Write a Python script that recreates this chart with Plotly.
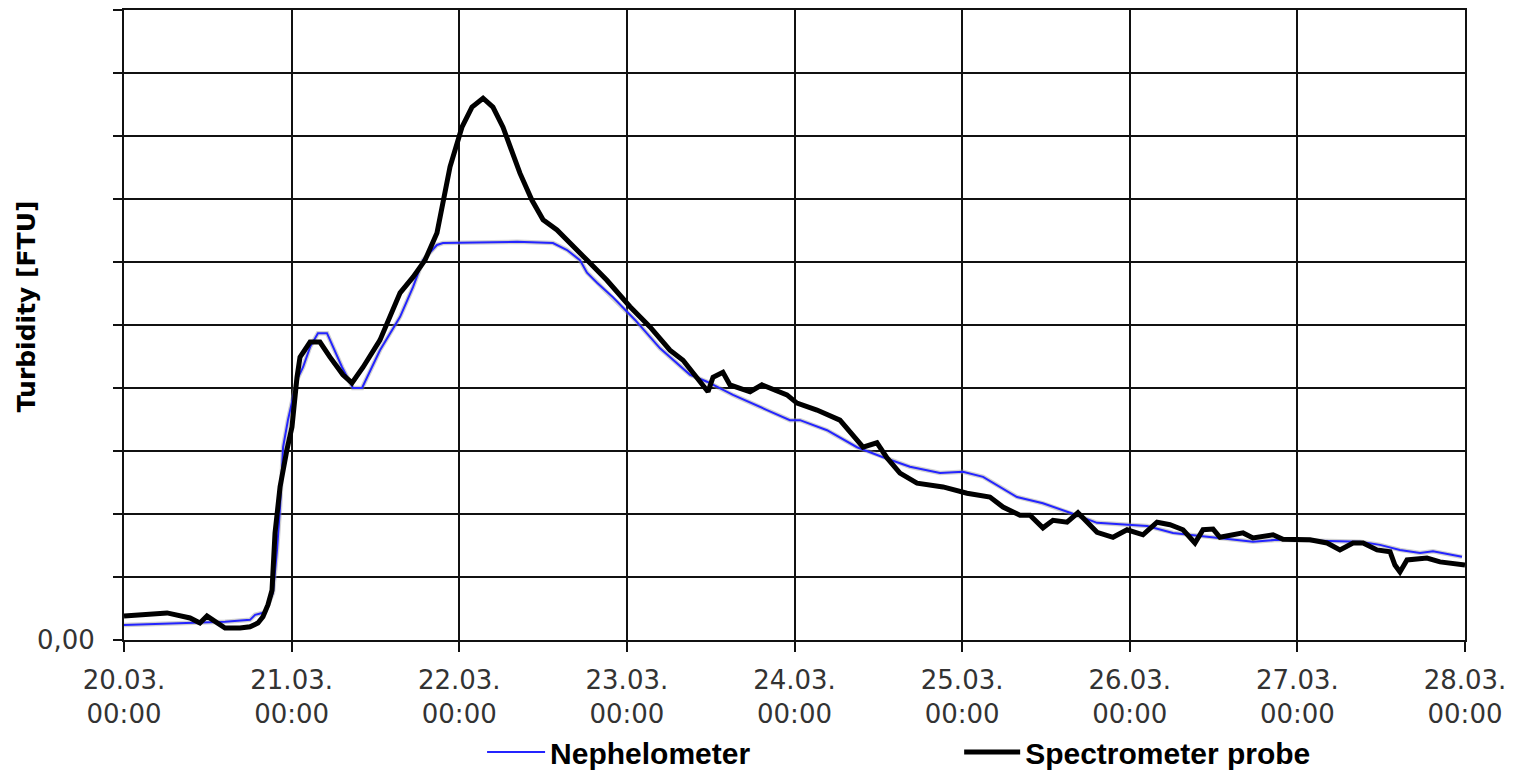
import plotly.graph_objects as go

# ---- data (x: days since 20.03. 00:00, y: turbidity in grid units) ----
spec_day = [0.000, 0.197, 0.257, 0.394, 0.453, 0.495, 0.543, 0.603, 0.692, 0.752,
            0.799, 0.829, 0.859, 0.883, 0.901, 0.931, 0.972, 1.002, 1.032, 1.050,
            1.110, 1.169, 1.229, 1.306, 1.360, 1.426, 1.527, 1.647, 1.724, 1.796,
            1.867, 1.903, 1.945, 2.016, 2.076, 2.142, 2.201, 2.261, 2.303, 2.362,
            2.434, 2.500, 2.583, 2.679, 2.762, 2.881, 3.019, 3.138, 3.257, 3.335,
            3.418, 3.484, 3.514, 3.573, 3.615, 3.735, 3.806, 3.872, 3.955, 4.015,
            4.134, 4.271, 4.349, 4.409, 4.492, 4.552, 4.629, 4.731, 4.886, 5.029,
            5.166, 5.244, 5.345, 5.405, 5.482, 5.542, 5.626, 5.691, 5.805, 5.900,
            5.984, 6.079, 6.163, 6.240, 6.318, 6.389, 6.437, 6.497, 6.538, 6.676,
            6.735, 6.855, 6.914, 7.075, 7.177, 7.254, 7.332, 7.392, 7.475, 7.553,
            7.582, 7.612, 7.654, 7.773, 7.851, 7.928, 8.000]
spec_val = [0.38, 0.41, 0.43, 0.35, 0.27, 0.38, 0.29, 0.19, 0.19, 0.21,
            0.27, 0.37, 0.56, 0.79, 1.70, 2.43, 3.02, 3.38, 4.17, 4.49,
            4.73, 4.73, 4.49, 4.21, 4.08, 4.33, 4.76, 5.51, 5.76, 6.03,
            6.46, 6.98, 7.51, 8.14, 8.46, 8.60, 8.46, 8.14, 7.83, 7.41,
            6.98, 6.67, 6.51, 6.24, 6.03, 5.71, 5.29, 4.97, 4.60, 4.44,
            4.17, 3.94, 4.17, 4.25, 4.05, 3.94, 4.05, 3.97, 3.89, 3.76,
            3.65, 3.49, 3.25, 3.06, 3.13, 2.89, 2.65, 2.49, 2.43, 2.33,
            2.27, 2.11, 1.98, 1.98, 1.78, 1.90, 1.87, 2.02, 1.71, 1.63,
            1.75, 1.67, 1.87, 1.83, 1.75, 1.54, 1.75, 1.76, 1.63, 1.70,
            1.62, 1.67, 1.60, 1.59, 1.54, 1.43, 1.54, 1.54, 1.43, 1.40,
            1.19, 1.08, 1.27, 1.30, 1.24, 1.22, 1.19]

neph_day = [0.000, 0.394, 0.603, 0.752, 0.782, 0.841, 0.889, 0.913, 0.931, 0.949,
            0.978, 1.032, 1.068, 1.110, 1.157, 1.211, 1.301, 1.366, 1.420, 1.527,
            1.647, 1.724, 1.784, 1.867, 1.903, 2.345, 2.559, 2.643, 2.720, 2.762,
            2.822, 2.917, 3.049, 3.198, 3.377, 3.478, 3.633, 3.836, 3.973, 4.033,
            4.194, 4.373, 4.528, 4.689, 4.868, 5.005, 5.125, 5.327, 5.482, 5.644,
            5.805, 6.103, 6.258, 6.735, 6.878, 7.374, 7.493, 7.612, 7.732, 7.809,
            7.928, 7.982]
neph_val = [0.24, 0.27, 0.29, 0.32, 0.40, 0.44, 0.75, 1.43, 2.11, 3.06,
            3.49, 4.13, 4.33, 4.65, 4.87, 4.87, 4.33, 4.00, 4.00, 4.60,
            5.13, 5.60, 6.03, 6.27, 6.30, 6.32, 6.30, 6.19, 6.03, 5.83,
            5.67, 5.44, 5.08, 4.63, 4.21, 4.10, 3.89, 3.65, 3.49, 3.49,
            3.33, 3.06, 2.90, 2.75, 2.65, 2.67, 2.59, 2.27, 2.17, 2.02,
            1.86, 1.81, 1.70, 1.56, 1.59, 1.56, 1.51, 1.43, 1.38, 1.41,
            1.35, 1.32]

x_tick_vals = [0, 1, 2, 3, 4, 5, 6, 7, 8]
x_tick_text = ["20.03.<br>00:00", "21.03.<br>00:00", "22.03.<br>00:00",
               "23.03.<br>00:00", "24.03.<br>00:00", "25.03.<br>00:00",
               "26.03.<br>00:00", "27.03.<br>00:00", "28.03.<br>00:00"]
y_tick_vals = [0, 1, 2, 3, 4, 5, 6, 7, 8, 9, 10]
y_tick_text = ["0,00", "", "", "", "", "", "", "", "", "", ""]

fig = go.Figure()
# soft grey halo under the nephelometer line (as in the original rendering)
fig.add_trace(go.Scatter(x=neph_day, y=neph_val, mode="lines", name="Nephelometer halo",
                         line=dict(color="rgba(150,150,150,0.45)", width=4.5),
                         showlegend=False, hoverinfo="skip"))
fig.add_trace(go.Scatter(x=neph_day, y=neph_val, mode="lines", name="Nephelometer",
                         line=dict(color="#2424ff", width=2), legend="legend",
                         showlegend=True))
fig.add_trace(go.Scatter(x=spec_day, y=spec_val, mode="lines", name="Spectrometer probe",
                         line=dict(color="#000000", width=5), legend="legend2",
                         showlegend=True))

legend_font = dict(family="Liberation Sans", size=30, color="black", weight="bold")

fig.update_layout(
    width=1505, height=766,
    margin=dict(l=116, r=48, t=2, b=134, autoexpand=False),
    showlegend=True,
    paper_bgcolor="white", plot_bgcolor="white",
    xaxis=dict(range=[0, 8], tickvals=x_tick_vals, ticktext=x_tick_text,
               automargin=False,
               showgrid=True, gridcolor="#111111", gridwidth=2,
               showline=True, linecolor="#111111", linewidth=2, mirror=True,
               ticks="outside", ticklen=10, tickwidth=2, tickcolor="#111111",
               tickfont=dict(family="DejaVu Sans", size=26, color="#333333"),
               ticklabelstandoff=6, zeroline=False, fixedrange=True),
    yaxis=dict(range=[0, 10], tickvals=y_tick_vals, ticktext=y_tick_text,
               automargin=False,
               showgrid=True, gridcolor="#111111", gridwidth=2,
               showline=True, linecolor="#111111", linewidth=2, mirror=True,
               ticks="outside", ticklen=9, tickwidth=2, tickcolor="#111111",
               tickfont=dict(family="DejaVu Sans", size=26, color="#333333"),
               ticklabelstandoff=13, zeroline=False, fixedrange=True),
    legend=dict(orientation="h", xref="container", yref="container",
                x=0.315, xanchor="left", y=0.0287, yanchor="middle",
                font=legend_font, itemwidth=58, bgcolor="rgba(0,0,0,0)"),
    legend2=dict(orientation="h", xref="container", yref="container",
                 x=0.632, xanchor="left", y=0.0287, yanchor="middle",
                 font=legend_font, itemwidth=56, bgcolor="rgba(0,0,0,0)"),
    annotations=[dict(text="<b>Turbidity [FTU]</b>", textangle=-90, xref="paper", yref="paper",
                      x=-0.073, y=0.53, xanchor="center", yanchor="middle", showarrow=False,
                      font=dict(family="DejaVu Sans", size=25, color="black"))],
)

fig.write_html("out.html")
